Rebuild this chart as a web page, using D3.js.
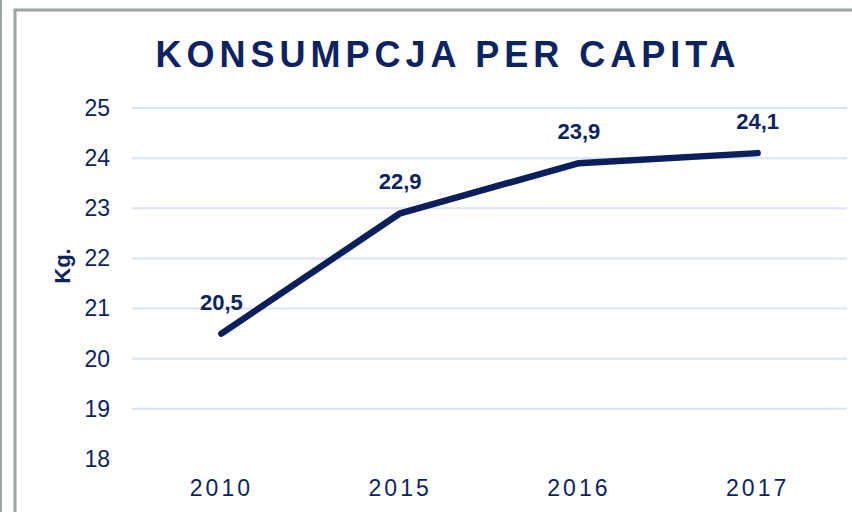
<!DOCTYPE html>
<html>
<head>
<meta charset="utf-8">
<script src="https://cdn.jsdelivr.net/npm/d3@7"></script>
<style>
  body { margin: 0; background: #fff; }
  svg { display: block; font-family: "Liberation Sans", Arial, sans-serif; }
</style>
</head>
<body>
<div id="chart"></div>
<script>
/* Konsumpcja per capita line chart */

const years = ["2010", "2015", "2016", "2017"];
const values = [20.5, 22.9, 23.9, 24.1];
const yTicks = [18, 19, 20, 21, 22, 23, 24, 25];

const width = 852,
  height = 512,
  margin = ({ top: 108, right: 5, bottom: 53, left: 132 });

const navy = "#0b2461";

let svg = d3.select("#chart")
  .append("svg")
  .attr("width", width)
  .attr("height", height)
  .attr("viewBox", [0, 0, width, height]);

/* frame lines */
svg.append("line").attr("x1", 1).attr("x2", 1).attr("y1", 0).attr("y2", height)
  .attr("stroke", "#9ba69f").attr("stroke-width", 2);
svg.append("line").attr("x1", 15).attr("x2", 15).attr("y1", 9).attr("y2", height)
  .attr("stroke", "#9ba69f").attr("stroke-width", 3);
svg.append("line").attr("x1", 14).attr("x2", width).attr("y1", 10).attr("y2", 10)
  .attr("stroke", "#9ba69f").attr("stroke-width", 3);

let x = d3.scaleBand()
  .domain(years)
  .range([margin.left, width - margin.right]);

let y = d3.scaleLinear()
  .domain([18, 25])
  .range([459, margin.top]);

/* gridlines (none at the bottom value) */
svg.append("g")
  .selectAll("line")
  .data(yTicks.filter(d => d > 18))
  .join("line")
  .attr("x1", margin.left)
  .attr("x2", width - margin.right)
  .attr("y1", d => y(d))
  .attr("y2", d => y(d))
  .attr("stroke", "#dbe3f8")
  .attr("stroke-width", 2);

/* y axis labels */
svg.append("g")
  .attr("transform", `translate(110,0)`)
  .call(d3.axisLeft(y).tickValues(yTicks).tickFormat(d3.format("d")).tickSize(0).tickPadding(0))
  .call(g => g.select(".domain").remove())
  .call(g => g.selectAll("text")
    .attr("fill", navy)
    .style("font-size", "23px")
    .style("font-family", "'Liberation Sans', Arial, sans-serif"));

/* x axis labels */
svg.append("g")
  .attr("transform", `translate(0,459)`)
  .call(d3.axisBottom(x).tickSize(0).tickPadding(21))
  .call(g => g.select(".domain").remove())
  .call(g => g.selectAll("text")
    .attr("fill", navy)
    .style("font-size", "23px")
    .style("letter-spacing", "3px")
    .style("font-family", "'Liberation Sans', Arial, sans-serif"));

/* title */
svg.append("text")
  .attr("x", 448)
  .attr("y", 67)
  .attr("text-anchor", "middle")
  .attr("fill", navy)
  .style("font-size", "36px")
  .style("font-weight", "bold")
  .style("letter-spacing", "5px")
  .text("KONSUMPCJA PER CAPITA");

/* y axis title */
svg.append("text")
  .attr("transform", "translate(70,266) rotate(-90)")
  .attr("text-anchor", "middle")
  .attr("fill", navy)
  .style("font-size", "22px")
  .style("font-weight", "bold")
  .text("Kg.");

const data = years.map((d, i) => ({ year: d, value: values[i] }));

let line = d3.line()
  .x(d => x(d.year) + x.bandwidth() / 2)
  .y(d => y(d.value));

svg.append("path")
  .datum(data)
  .attr("d", line)
  .attr("fill", "none")
  .attr("stroke", "#0a1f5c")
  .attr("stroke-width", 6.5)
  .attr("stroke-linecap", "round")
  .attr("stroke-linejoin", "round");

/* value labels */
svg.append("g")
  .selectAll("text")
  .data(data)
  .join("text")
  .attr("x", d => x(d.year) + x.bandwidth() / 2)
  .attr("y", d => y(d.value) - 24)
  .attr("text-anchor", "middle")
  .attr("fill", navy)
  .style("font-size", "22px")
  .style("font-weight", "bold")
  .text(d => String(d.value).replace(".", ","));
</script>
</body>
</html>
